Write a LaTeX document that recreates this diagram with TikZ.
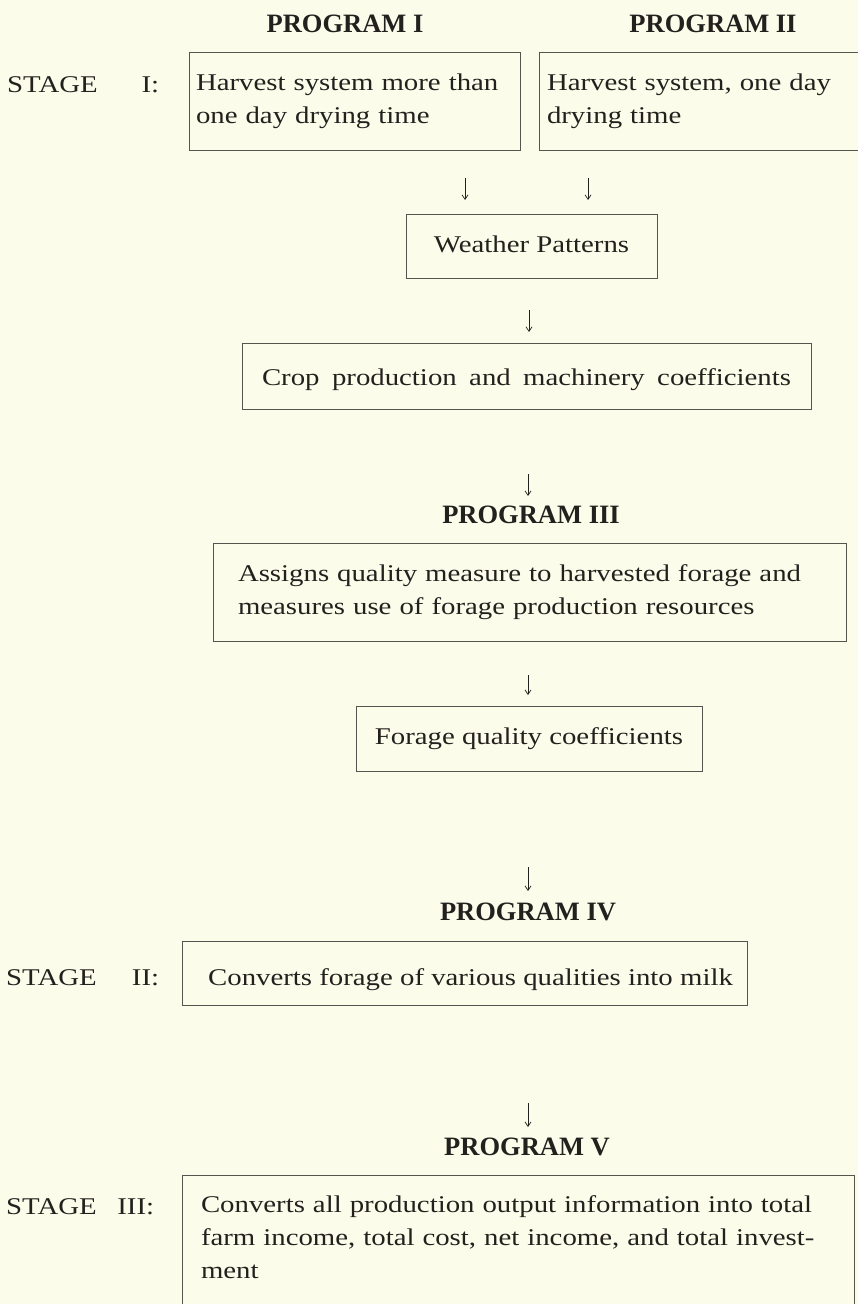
\documentclass[tikz,border=0pt]{standalone}
\usepackage{fontspec}
\setmainfont{Liberation Serif}
\newfontfamily\bodyf[FakeStretch=1.2]{Liberation Serif}
\newfontfamily\headf{Liberation Serif}
\usetikzlibrary{arrows.meta}
\definecolor{paper}{RGB}{252,252,234}
\definecolor{ink}{RGB}{35,33,30}
\definecolor{rulec}{RGB}{85,85,80}
\begin{document}
\begin{tikzpicture}[x=1pt,y=-1pt,
  body/.style={font=\bodyf\fontsize{24}{33}\selectfont, text=ink},
  head/.style={font=\headf\bfseries\fontsize{26.5}{30}\selectfont, text=ink, inner sep=0pt},
  box/.style={body, draw=rulec, line width=0.9pt},
  flow/.style={draw=ink, line width=0.7pt, -{Straight Barb[length=4.5pt,width=6pt]}},
  stage/.style={body, anchor=west, inner sep=0pt}]
\fill[paper] (0,0) rectangle (858,1304);
\useasboundingbox (0,0) rectangle (858,1304);

% Stage I
\node[head] (h1) at (345,24) {PROGRAM I};
\node[head] (h2) at (713,24) {PROGRAM II};
\node[stage] (s1) at (7,85) {\makebox[152pt]{STAGE\hfill I:}};
\node[box, minimum width=331pt, minimum height=98pt, text width=317pt, inner xsep=7pt, align=left] (b1) at (354.5,101) {Harvest system more than\\one day drying time};
\node[box, minimum width=321pt, minimum height=98pt, text width=305pt, inner xsep=8pt, align=left] (b2) at (699.5,101) {Harvest system, one day\\drying time};

\coordinate (a1s) at (465,178); \coordinate (a1e) at (465,200);
\coordinate (a2s) at (588,178); \coordinate (a2e) at (588,200);
\draw[flow] (a1s) -- (a1e);
\draw[flow] (a2s) -- (a2e);

\node[box, minimum width=251pt, minimum height=64pt, text height=17pt, text depth=5pt] (wp) at (531.5,246) {Weather Patterns};
\coordinate (a3s) at (529,310); \coordinate (a3e) at (529,332);
\draw[flow] (a3s) -- (a3e);
\node[box, minimum width=569pt, minimum height=66pt, text height=24pt, text depth=5pt] (cp) at (526.5,376) {\makebox[529pt][s]{Crop production and machinery coefficients}};

\coordinate (a4s) at (528,474); \coordinate (a4e) at (528,496);
\draw[flow] (a4s) -- (a4e);
\node[head] (h3) at (531,515) {PROGRAM III};
\node[box, minimum width=633pt, minimum height=98pt, text width=583pt, inner xsep=25pt, align=left] (b3) at (529.5,592) {\makebox[583pt][s]{Assigns quality measure to harvested forage and}\\measures use of forage production resources};

\coordinate (a5s) at (528,675); \coordinate (a5e) at (528,695);
\draw[flow] (a5s) -- (a5e);
\node[box, minimum width=346pt, minimum height=65pt, text height=17pt, text depth=5pt] (fq) at (529,738.5) {Forage quality coefficients};

% Stage II
\coordinate (a6s) at (528,867); \coordinate (a6e) at (528,891);
\draw[flow] (a6s) -- (a6e);
\node[head] (h4) at (528,912) {PROGRAM IV};
\node[stage] (s2) at (6,978) {\makebox[153pt]{STAGE\hfill II:}};
\node[box, minimum width=565pt, minimum height=64pt, text height=30pt, text depth=5pt] (b4) at (464.5,973) {\hspace{12pt}Converts forage of various qualities into milk};

% Stage III
\coordinate (a7s) at (528,1103); \coordinate (a7e) at (528,1127);
\draw[flow] (a7s) -- (a7e);
\node[head] (h5) at (527,1147) {PROGRAM V};
\node[stage] (s3) at (6,1207) {\makebox[148pt]{STAGE\hfill III:}};
\node[body, anchor=north, text width=635pt, inner xsep=18pt, inner ysep=20pt, align=left] (b5) at (518.5,1175) {\makebox[635pt][s]{Converts all production output information into total}\\\makebox[635pt][s]{farm income, total cost, net income, and total invest-}\\ment};
\draw[draw=rulec, line width=0.9pt] ([yshift=-20pt]b5.south west) -- (b5.north west) -- (b5.north east) -- ([yshift=-20pt]b5.south east);
\end{tikzpicture}
\end{document}
